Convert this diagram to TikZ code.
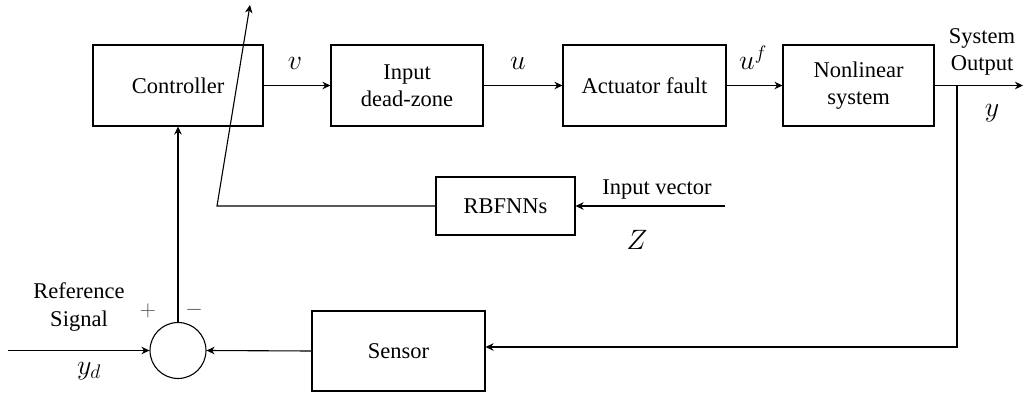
\RequirePackage{fix-cm}
\documentclass[tikz,border=0pt]{standalone}
\usepackage{fontspec}
\setmainfont{Liberation Serif}
\usetikzlibrary{arrows.meta}
\begin{document}
\begin{tikzpicture}[x=1pt,y=-1pt,
  font=\fontsize{22.5}{27.5}\selectfont,
  line width=1.1pt,
  blk/.style={draw, line width=1.1pt, inner sep=0pt, align=center},
  lbl/.style={inner sep=0pt, align=center},
  mlbl/.style={inner sep=0pt, font=\fontsize{28}{33}\selectfont},
  arr/.style={-{Stealth[length=8pt,width=7.5pt,inset=2.5pt]}}]
\useasboundingbox (0,0) rectangle (1024,393);
% blocks
\node[blk, minimum width=170pt, minimum height=81pt] (ctrl) at (178,85.5) {Controller};
\node[blk, minimum width=152pt, minimum height=81pt] (dz) at (407,85.5) {Input\\dead-zone};
\node[blk, minimum width=163pt, minimum height=81pt] (act) at (644.5,85.5) {Actuator fault};
\node[blk, minimum width=151pt, minimum height=81pt] (ns) at (858.5,85.5) {Nonlinear\\system};
\node[blk, minimum width=139pt, minimum height=58pt] (rbf) at (505.5,206) {RBFNNs};
\node[blk, minimum width=173pt, minimum height=80pt] (sen) at (398.5,351) {Sensor};
\node[draw, circle, line width=1.1pt, minimum size=56pt, inner sep=0pt] (sum) at (178,350.5) {};
% coordinates
\coordinate (out) at (1023,85.5);
\coordinate (br) at (957,85.5);
\coordinate (in) at (8,350.5);
\coordinate (zin) at (725,206);
\coordinate (sl0) at (217,206);
\coordinate (sl1) at (250,5);
% connectors
\draw[arr] (ctrl) -- (dz);
\draw[arr] (dz) -- (act);
\draw[arr] (act) -- (ns);
\draw[arr] (ns.east) -- (out);
\draw[arr] (br) |- ([yshift=4pt]sen.east);
\draw[arr] (sen.west) -- (sum.east);
\draw[arr] (in) -- (sum.west);
\draw[arr] (sum.north) -- (ctrl.south);
\draw[arr] (zin) -- (rbf.east);
\draw[arr] (rbf.west) -- (sl0) -- (sl1);
% labels
\node[mlbl] (lv) at (295,63) {$v$};
\node[mlbl] (lu) at (518,63) {$u$};
\node[mlbl] (luf) at (753,58) {$u^f$};
\node[lbl] (lso) at (982,52) {System\\Output};
\node[mlbl] (ly) at (992,113) {$y$};
\node[lbl] (liv) at (657,190) {Input vector};
\node[mlbl] (lz) at (637,240) {$Z$};
\node[lbl] (lref) at (79,307) {Reference\\Signal};
\node[mlbl] (lyd) at (89,371) {$y_d$};
\node[lbl, text=black!70] (lp) at (148,311) {$+$};
\node[lbl, text=black!70] (lm) at (194,310) {$-$};
\end{tikzpicture}
\end{document}
